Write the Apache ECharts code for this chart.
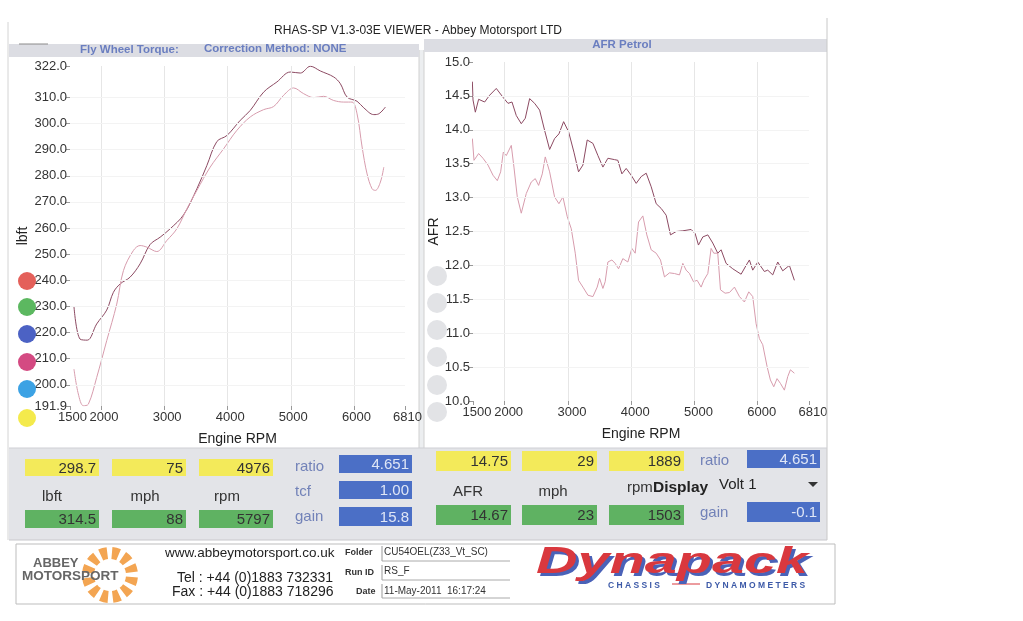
<!DOCTYPE html>
<html>
<head>
<meta charset="utf-8">
<script src="https://cdn.jsdelivr.net/npm/echarts@6/dist/echarts.min.js"></script>
<style>
html,body{margin:0;padding:0;background:#fff;}
#c{width:1023px;height:621px;}
</style>
</head>
<body>
<div id="c"></div>
<script>
// ---------- DATA ----------
var rpmTicks = [1500, 2000, 3000, 4000, 5000, 6000, 6810];
var torqueTicks = [191.9, 200, 210, 220, 230, 240, 250, 260, 270, 280, 290, 300, 310, 322];

var torqueRunA_rpm = [1563,1659,1775,1923,2082,2188,2294,2452,2611,2770,2929,3087,3299,3511,3669,3828,3987,4198,4357,4569,4780,4992,5151,5310,5468,5680,5786,5892,6050,6156,6315,6394,6500];
var torqueRunA     = [229.9,217.5,217.1,223.3,228.6,235.4,238.6,241.2,246.3,253.7,256.5,259.7,265.0,275.0,283.9,293.1,295.4,301.2,305.0,312.0,315.9,319.7,319.3,321.9,320.1,317.8,315.2,310.1,308.5,306.0,303.4,303.7,306.3];

var torqueRunB_rpm = [1563,1632,1712,1791,1923,2082,2241,2347,2505,2611,2717,2876,3034,3193,3352,3511,3722,3934,4146,4357,4569,4728,4886,5045,5204,5362,5521,5680,5839,5971,6050,6130,6209,6288,6341,6420,6474];
var torqueRunB     = [206.0,196.5,192.0,192.6,202.8,216.9,230.9,243.7,251.4,253.3,252.7,251.0,255.2,259.7,267.3,274.4,283.3,290.3,297.4,302.5,305.3,306.5,310.8,313.6,311.4,309.9,310.4,308.8,308.2,308.2,303.7,291.0,280.7,275.0,274.4,277.6,283.3];

var afrRunA_rpm = [1490,1500,1537,1589,1684,1763,1868,1974,2053,2116,2184,2263,2326,2395,2474,2553,2632,2711,2789,2858,2932,3011,3095,3168,3237,3305,3395,3474,3553,3632,3737,3789,3853,3921,4000,4079,4158,4237,4316,4395,4474,4553,4621,4711,4816,4947,5011,5063,5132,5211,5289,5368,5421,5500,5605,5737,5816,5868,5921,6000,6105,6158,6237,6316,6395,6500,6579];
var afrRunA     = [14.71,14.44,14.26,14.45,14.41,14.51,14.61,14.48,14.39,14.41,14.21,14.09,14.17,14.46,14.39,14.29,13.99,13.71,13.87,13.94,14.12,13.97,13.67,13.38,13.48,13.85,13.80,13.62,13.45,13.58,13.56,13.55,13.35,13.43,13.33,13.21,13.31,13.36,13.16,12.91,12.84,12.74,12.45,12.50,12.51,12.53,12.47,12.30,12.42,12.45,12.33,12.18,12.23,12.03,11.95,11.87,12.00,12.08,11.93,12.05,11.91,11.93,11.86,12.05,11.92,12.00,11.78];

var afrRunB_rpm = [1490,1516,1553,1589,1658,1737,1816,1884,1937,1979,2026,2105,2147,2200,2263,2342,2421,2484,2537,2595,2642,2711,2789,2858,2921,2989,3053,3116,3168,3237,3316,3395,3463,3500,3553,3589,3632,3695,3747,3800,3868,3947,4011,4063,4116,4184,4247,4316,4395,4463,4526,4605,4684,4763,4816,4868,4921,4984,5042,5105,5147,5211,5263,5305,5368,5411,5484,5553,5632,5711,5789,5858,5921,5974,6026,6079,6147,6200,6253,6305,6358,6421,6474,6516,6579];
var afrRunB     = [13.87,13.55,13.60,13.65,13.58,13.48,13.33,13.25,13.38,13.67,13.62,13.77,13.45,13.01,12.77,13.06,13.23,13.28,13.18,13.35,13.60,13.38,13.01,12.91,13.01,12.72,12.54,12.18,11.78,11.68,11.56,11.54,11.68,11.81,11.66,11.76,12.05,12.08,12.03,11.95,12.10,12.05,12.25,12.18,12.64,12.73,12.45,12.23,12.18,12.08,11.83,11.89,11.88,11.86,12.03,11.93,11.88,11.76,11.78,11.68,11.78,11.88,12.25,12.18,12.18,11.64,11.59,11.60,11.68,11.54,11.46,11.61,11.54,11.14,10.92,10.83,10.51,10.31,10.21,10.33,10.26,10.16,10.36,10.46,10.41];

var rpmGrid = [2000, 3000, 4000, 5000, 6000];
var torqueGrid = [200, 210, 220, 230, 240, 250, 260, 270, 280, 290, 300, 310];
var afrGrid = [10.5, 11, 11.5, 12, 12.5, 13, 13.5, 14, 14.5];

var leftReadings = {top: ['298.7', '75', '4976'], units: ['lbft', 'mph', 'rpm'], bottom: ['314.5', '88', '5797'], side: ['4.651', '1.00', '15.8']};
var rightReadings = {top: ['14.75', '29', '1889'], units: ['AFR', 'mph', 'rpm'], bottom: ['14.67', '23', '1503'], side: ['4.651', '-0.1']};

function zip(a, b) { return a.map(function (v, i) { return [v, b[i]]; }); }

// ---------- CHART ----------
var chart = echarts.init(document.getElementById('c'), null, {renderer: 'canvas'});
var FONT = 'Liberation Sans, Arial, sans-serif';
var tickColor = '#999';

function xAxisCfg(gi, pad) {
  return {
    type: 'value', gridIndex: gi, min: 1500, max: 6810,
    name: 'Engine RPM', nameLocation: 'middle', nameGap: 26,
    nameTextStyle: {color: '#222', fontSize: 14, fontFamily: FONT},
    axisLine: {show: false},
    axisTick: {show: true, length: 4, lineStyle: {color: tickColor}, customValues: rpmTicks},
    axisLabel: {color: '#333', fontSize: 13, fontFamily: FONT, margin: 5, customValues: rpmTicks,
      padding: [0, 0, 0, pad],
      formatter: function (v) { return String(Math.round(v)); }},
    splitLine: {show: false}
  };
}

function gridMark(xs, ys) {
  return {
    silent: true, symbol: ['none', 'none'], label: {show: false},
    data: xs.map(function (v) { return {xAxis: v, lineStyle: {color: '#e6e6e6', type: 'solid', width: 1}}; })
      .concat(ys.map(function (v) { return {yAxis: v, lineStyle: {color: '#f3f3f3', type: 'solid', width: 1}}; }))
  };
}

function txt(x, y, s, o) {
  o = o || {};
  var e = {type: 'text', x: x, y: y, z: o.z || 10, silent: true,
    style: {text: s, fill: o.fill || '#333', font: o.font || ('13px ' + FONT),
      textAlign: o.align || 'left', align: o.align || 'left',
      textVerticalAlign: 'middle', verticalAlign: 'middle'}};
  if (o.scaleX) { e.scaleX = o.scaleX; }
  return e;
}
function rect(x, y, w, h, fill, stroke, z) {
  return {type: 'rect', z: z || 1, silent: true, shape: {x: x, y: y, width: w, height: h},
    style: {fill: fill, stroke: stroke || null, lineWidth: stroke ? 1 : 0}};
}
function line(x1, y1, x2, y2, color, z) {
  return {type: 'line', z: z || 2, silent: true, shape: {x1: x1, y1: y1, x2: x2, y2: y2},
    style: {stroke: color, lineWidth: 1}};
}
function circ(cx, cy, r, fill) {
  return {type: 'circle', z: 5, silent: true, shape: {cx: cx, cy: cy, r: r}, style: {fill: fill}};
}

var g = [];
// window frame & title
g.push(line(8, 22, 8, 540, '#d4d4d4'));
g.push(line(827, 18, 827, 540, '#c8c8c8'));
g.push(txt(418, 31, 'RHAS-SP V1.3-03E VIEWER - Abbey Motorsport LTD', {align: 'center', font: '12px ' + FONT, fill: '#222'}));
// panel separator
g.push(rect(419, 50, 5, 398, '#eceef0', null, -10));
g.push(line(419, 50, 419, 448, '#d0d0d0', -9));
g.push(line(424, 50, 424, 448, '#d0d0d0', -9));
// header bars
g.push(rect(9, 44, 410, 13, '#dcdde3', null, 1));
g.push(rect(424, 39, 403, 13, '#dcdde3', null, 1));
g.push(line(19, 44, 48, 44, '#8a8a8a', 3));
g.push(txt(80, 50, 'Fly Wheel Torque:', {font: 'bold 11.5px ' + FONT, fill: '#6a7ec0'}));
g.push(txt(204, 49, 'Correction Method: NONE', {font: 'bold 11.5px ' + FONT, fill: '#6a7ec0'}));
g.push(txt(622, 45, 'AFR Petrol', {align: 'center', font: 'bold 11.5px ' + FONT, fill: '#6a7ec0'}));
// colored circles (left)
var circleColors = ['#e4605a', '#5cb860', '#4c62c4', '#d44a82', '#3ca2e4', '#f4ea4c'];
var circleY = [281, 307, 334, 362, 389, 418];
circleColors.forEach(function (c, i) { g.push(circ(27, circleY[i], 9, c)); });
// grey circles (right)
[276, 303, 330, 357, 385, 412].forEach(function (y) { g.push(circ(437, y, 10, '#e2e3e6')); });

// lower readout panel
g.push(rect(9, 448, 818, 92, '#e3e4e8', null, 0));
g.push(line(9, 448, 827, 448, '#cfcfd4'));
g.push(line(9, 540, 827, 540, '#c8c8cc'));
function readouts(R, xs, ws, yTop, yBot, hTop, hBot) {
  for (var i = 0; i < 3; i++) {
    g.push(rect(xs[i], yTop, ws, hTop, '#f3ea5a', null, 2));
    g.push(txt(xs[i] + ws - 3, yTop + hTop / 2 + 1, R.top[i], {align: 'right', font: '15px ' + FONT, fill: '#333'}));
    g.push(rect(xs[i], yBot, ws, hBot, '#5fb262', null, 2));
    g.push(txt(xs[i] + ws - 3, yBot + hBot / 2 + 1, R.bottom[i], {align: 'right', font: '15px ' + FONT, fill: '#333'}));
  }
}
readouts(leftReadings, [25, 112, 199], 74, 459, 510, 17, 18);
[52, 145, 227].forEach(function (x, i) { g.push(txt(x, 497, leftReadings.units[i], {align: 'center', font: '15px ' + FONT, fill: '#333'})); });
[['ratio', 467], ['tcf', 492], ['gain', 517]].forEach(function (u) { g.push(txt(295, u[1], u[0], {font: '15px ' + FONT, fill: '#7282b8'})); });
[[455, 18], [481, 18], [507, 19]].forEach(function (b, i) {
  g.push(rect(339, b[0], 73, b[1], '#4b6fc6', null, 2));
  g.push(txt(409, b[0] + b[1] / 2 + 1, leftReadings.side[i], {align: 'right', font: '15px ' + FONT, fill: '#dfe6f6'}));
});
readouts(rightReadings, [436, 522, 609], 75, 451, 505, 20, 20);
[468, 553].forEach(function (x, i) { g.push(txt(x, 492, rightReadings.units[i], {align: 'center', font: '15px ' + FONT, fill: '#333'})); });
g.push(txt(627, 488, rightReadings.units[2], {font: '15px ' + FONT, fill: '#333'}));
g.push(txt(653, 488, 'Display', {font: 'bold 15.5px ' + FONT, fill: '#222'}));
g.push(txt(719, 485, 'Volt 1', {font: '15px ' + FONT, fill: '#222'}));
g.push({type: 'polygon', z: 5, silent: true, shape: {points: [[808, 482], [818, 482], [813, 487]]}, style: {fill: '#333'}});
[['ratio', 461], ['gain', 513]].forEach(function (u) { g.push(txt(700, u[1], u[0], {font: '15px ' + FONT, fill: '#7282b8'})); });
[[450, 18], [502, 20]].forEach(function (b, i) {
  g.push(rect(747, b[0], 73, b[1], '#4b6fc6', null, 2));
  g.push(txt(817, b[0] + b[1] / 2 + 1, rightReadings.side[i], {align: 'right', font: '15px ' + FONT, fill: '#dfe6f6'}));
});

// footer
g.push(rect(16, 544, 819, 60, '#ffffff', '#bdbdbd', 1));
// sunburst
for (var k = 0; k < 12; k++) {
  var a0 = (k * 30 + 5) * Math.PI / 180, a1 = (k * 30 + 23) * Math.PI / 180;
  g.push({type: 'sector', z: 3, silent: true, shape: {cx: 110, cy: 575, r0: 16, r: 28, startAngle: a0, endAngle: a1}, style: {fill: '#f3a552'}});
}
g.push(txt(33, 563, 'ABBEY', {font: 'bold 13px ' + FONT, fill: '#666', z: 6}));
g.push(txt(22, 576, 'MOTORSPORT', {font: 'bold 13.5px ' + FONT, fill: '#666', z: 6}));
g.push(txt(165, 553, 'www.abbeymotorsport.co.uk', {font: '13.5px ' + FONT, fill: '#222'}));
g.push(txt(177, 578, 'Tel : +44 (0)1883 732331', {font: '14px ' + FONT, fill: '#222'}));
g.push(txt(172, 592, 'Fax : +44 (0)1883 718296', {font: '14px ' + FONT, fill: '#222'}));
g.push(txt(345, 553, 'Folder', {font: 'bold 9px ' + FONT, fill: '#333'}));
g.push(txt(345, 573, 'Run ID', {font: 'bold 9px ' + FONT, fill: '#333'}));
g.push(txt(356, 592, 'Date', {font: 'bold 9px ' + FONT, fill: '#333'}));
g.push(line(382, 546, 382, 561, '#999'));
g.push(line(382, 561, 510, 561, '#aaa'));
g.push(line(382, 565, 382, 580, '#999'));
g.push(line(382, 580, 510, 580, '#aaa'));
g.push(line(382, 584, 382, 598, '#999'));
g.push(line(382, 598, 510, 598, '#aaa'));
g.push(txt(384, 552, 'CU54OEL(Z33_Vt_SC)', {font: '10px ' + FONT, fill: '#333'}));
g.push(txt(384, 571, 'RS_F', {font: '10px ' + FONT, fill: '#333'}));
g.push(txt(384, 591, '11-May-2011  16:17:24', {font: '10px ' + FONT, fill: '#333'}));
// Dynapack logo
g.push(txt(539, 566, 'Dynapack', {font: 'italic 900 36px ' + FONT, fill: '#4a62b8', z: 5, scaleX: 1.6}));
g.push(txt(536, 563, 'Dynapack', {font: 'italic 900 36px ' + FONT, fill: '#d9383e', z: 6, scaleX: 1.6}));
g.push(txt(608, 586, 'C H A S S I S', {font: 'bold 8.5px ' + FONT, fill: '#3d5aa8'}));
g.push(line(672, 584, 700, 584, '#d9383e'));
g.push(txt(706, 586, 'D Y N A M O M E T E R S', {font: 'bold 8.5px ' + FONT, fill: '#3d5aa8'}));

var lineDark = '#8c4a62', lineLight = '#d79cad';

var option = {
  animation: false,
  backgroundColor: '#ffffff',
  grid: [
    {left: 70, top: 66, width: 335, height: 340},
    {left: 473, top: 62, width: 336, height: 339}
  ],
  xAxis: [xAxisCfg(0, 5), xAxisCfg(1, 8)],
  yAxis: [
    {type: 'value', gridIndex: 0, min: 191.9, max: 322,
      name: 'lbft', nameLocation: 'middle', nameGap: 38, nameRotate: 90,
      nameTextStyle: {color: '#222', fontSize: 14, fontFamily: FONT},
      axisLine: {show: false},
      axisTick: {show: true, length: 4, lineStyle: {color: tickColor}, customValues: torqueTicks},
      axisLabel: {color: '#333', fontSize: 13, fontFamily: FONT, margin: 3, customValues: torqueTicks,
        formatter: function (v) { return v.toFixed(1); }},
      splitLine: {show: false}},
    {type: 'value', gridIndex: 1, min: 10, max: 15, interval: 0.5,
      name: 'AFR', nameLocation: 'middle', nameGap: 30, nameRotate: 90,
      nameTextStyle: {color: '#222', fontSize: 14, fontFamily: FONT},
      axisLine: {show: false},
      axisTick: {show: true, length: 4, lineStyle: {color: tickColor}},
      axisLabel: {color: '#333', fontSize: 13, fontFamily: FONT, margin: 3,
        formatter: function (v) { return v.toFixed(1); }},
      splitLine: {show: false}}
  ],
  series: [
    {type: 'line', xAxisIndex: 0, yAxisIndex: 0, data: zip(torqueRunA_rpm, torqueRunA), smooth: 0.35,
      symbol: 'none', lineStyle: {color: lineDark, width: 1}, markLine: gridMark(rpmGrid, torqueGrid), z: 3},
    {type: 'line', xAxisIndex: 0, yAxisIndex: 0, data: zip(torqueRunB_rpm, torqueRunB), smooth: 0.35,
      symbol: 'none', lineStyle: {color: lineLight, width: 1}, z: 3},
    {type: 'line', xAxisIndex: 1, yAxisIndex: 1, data: zip(afrRunA_rpm, afrRunA),
      symbol: 'none', lineStyle: {color: lineDark, width: 1}, markLine: gridMark(rpmGrid, afrGrid), z: 3},
    {type: 'line', xAxisIndex: 1, yAxisIndex: 1, data: zip(afrRunB_rpm, afrRunB),
      symbol: 'none', lineStyle: {color: lineLight, width: 1}, z: 3}
  ],
  graphic: {elements: g}
};
chart.setOption(option);
</script>
</body>
</html>
